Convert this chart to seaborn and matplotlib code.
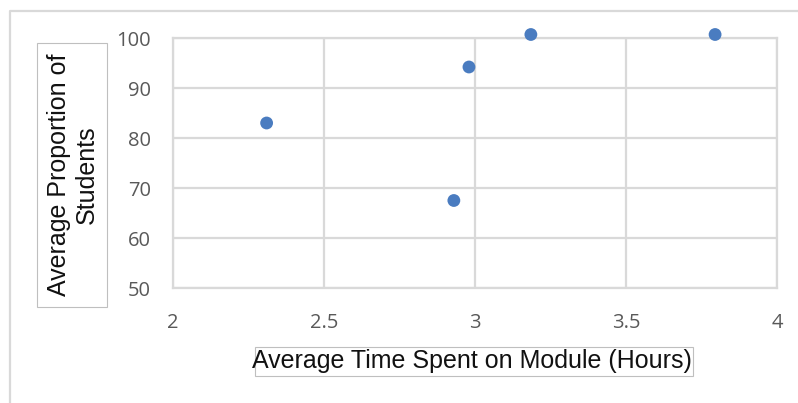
import matplotlib
matplotlib.use("Agg")
import matplotlib.pyplot as plt
from matplotlib.patches import Rectangle
from matplotlib.lines import Line2D
import seaborn as sns
import pandas as pd

# Data
time_hours = [2.31, 2.98, 3.185, 3.795, 2.93]
proportion = [83.0, 94.2, 100.7, 100.7, 67.5]
x_ticks = [2, 2.5, 3, 3.5, 4]
y_ticks = [50, 60, 70, 80, 90, 100]
x_label = "Average Time Spent on Module (Hours)"
y_label = "Average Proportion of\nStudents"

df = pd.DataFrame({"time": time_hours, "prop": proportion})

sns.set_theme(style="white")
plt.rcParams["font.family"] = ["Liberation Sans", "DejaVu Sans"]

W, H = 798, 403
fig = plt.figure(figsize=(W / 100, H / 100), dpi=100)
ax = fig.add_axes([173 / W, 1 - 288 / H, (777 - 173) / W, (288 - 38) / H])

grid_c = "#d9d9d9"
sns.scatterplot(data=df, x="time", y="prop", ax=ax, color="#4a7cc0",
                s=85, edgecolor="none", linewidth=0, clip_on=False, zorder=5)

ax.set_xlim(2, 4)
ax.set_ylim(50, 100)
ax.set_xticks(x_ticks)
ax.set_xticklabels([f"{t:g}" for t in x_ticks])
ax.set_yticks(y_ticks)
ax.set_yticklabels([str(t) for t in y_ticks])
ax.grid(True, color=grid_c, linewidth=1.6)
for sp in ax.spines.values():
    sp.set_color(grid_c)
    sp.set_linewidth(1.6)
ax.tick_params(axis="both", length=0, labelcolor="#595959", labelsize=14.5)
ax.tick_params(axis="x", pad=18)
ax.tick_params(axis="y", pad=16)
for lbl in ax.get_xticklabels() + ax.get_yticklabels():
    lbl.set_family(["Open Sans", "DejaVu Sans"])
ax.set_xlabel("")
ax.set_ylabel("")

# Axis title boxes and text
fig.add_artist(Rectangle((37 / W, 1 - 307 / H), 70 / W, 264 / H,
                         transform=fig.transFigure, facecolor="none",
                         edgecolor="#bfbfbf", linewidth=0.8))
fig.text(73 / W, 1 - 175 / H, y_label, rotation=90, ha="center", va="center",
         fontsize=18, color="#111111", linespacing=1.18)
fig.add_artist(Rectangle((255 / W, 1 - 376 / H), 438 / W, 29 / H,
                         transform=fig.transFigure, facecolor="none",
                         edgecolor="#bfbfbf", linewidth=0.8))
fig.text(472 / W, 1 - 361 / H, x_label, ha="center", va="center",
         fontsize=18, color="#111111")

# Outer frame (partial)
fig.add_artist(Line2D([10 / W, 10 / W, 1.0], [0.0, 1 - 11 / H, 1 - 11 / H],
                      transform=fig.transFigure, color=grid_c, linewidth=1.6))

fig.savefig("out.png", dpi=100)
